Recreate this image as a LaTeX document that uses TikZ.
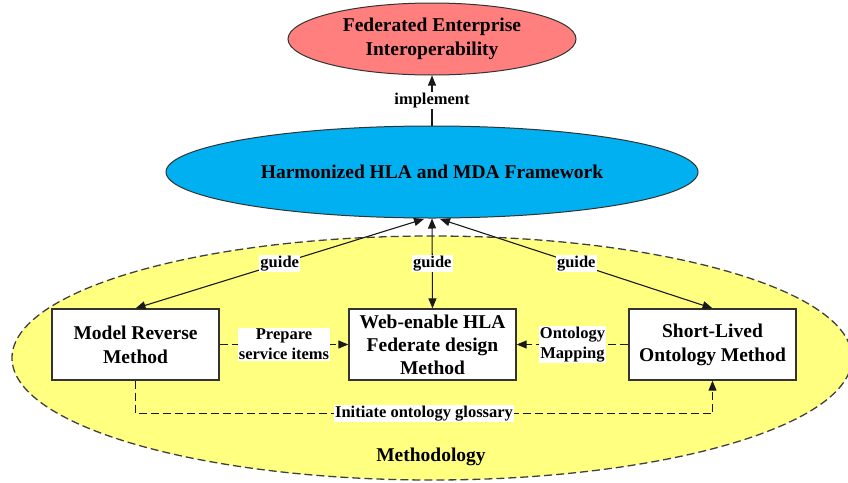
\documentclass[tikz,border=0pt]{standalone}
\usepackage{fontspec}
\setmainfont{Liberation Serif}
\usetikzlibrary{shapes.geometric,arrows.meta}
\definecolor{pinkf}{HTML}{FF7F7F}
\definecolor{bluef}{HTML}{00B0F0}
\definecolor{yellowf}{HTML}{FFFF80}
\begin{document}
\begin{tikzpicture}[x=1pt,y=-1pt,
 big/.style={font=\fontsize{19.5}{24}\selectfont\bfseries, align=center},
 lbl/.style={font=\fontsize{16.5}{20}\selectfont\bfseries, align=center, fill=white, inner sep=1pt},
 box/.style={draw=black!80, line width=1.3pt, fill=white, minimum width=167pt, minimum height=71pt, inner sep=0pt, big},
 tip/.style={-{Triangle[length=10pt,width=8pt]}},
 both/.style={{Triangle[length=10pt,width=8pt]}-{Triangle[length=10pt,width=8pt]}},
 conn/.style={line width=1.1pt, draw=black!90},
 dsh/.style={dash pattern=on 8pt off 4pt}]
\useasboundingbox (0,0) rectangle (848,482);
\fill[white] (0,0) rectangle (848,482);
% methodology region
\node[ellipse, draw=black!75, fill=yellowf, dsh, line width=1.3pt, minimum width=840pt, minimum height=244pt, inner sep=0pt] (meth) at (432,358) {};
% top ellipses
\node[ellipse, draw=black!80, fill=pinkf, line width=1pt, minimum width=288pt, minimum height=72pt, inner sep=0pt, big] (fei) at (432,39) {Federated Enterprise\\Interoperability};
\node[ellipse, draw=black!80, fill=bluef, line width=1pt, minimum width=532pt, minimum height=92pt, inner sep=0pt, big] (hf) at (432,172) {Harmonized HLA and MDA Framework};
% boxes
\node[box] (mr) at (135.5,344.5) {Model Reverse\\Method};
\node[box, font=\fontsize{19.5}{23}\selectfont\bfseries] (web) at (432.5,344.5) {Web-enable HLA\\Federate design\\Method};
\node[box] (sl) at (712.5,344.5) {Short-Lived\\Ontology Method};
\node[font=\fontsize{19.5}{24}\selectfont\bfseries] (ml) at (431,457) {Methodology};
% connection points on the framework ellipse
\coordinate (gl) at (424,219);
\coordinate (gr) at (440,219);
% connectors
\draw[conn,tip] (hf.north) -- node[lbl]{implement} (fei.south);
\draw[conn,both] (gl) -- node[lbl]{guide} (mr.north);
\draw[conn,both] (hf.south) -- node[lbl]{guide} (web.north);
\draw[conn,both] (gr) -- node[lbl]{guide} (sl.north);
\draw[conn,dsh,tip] (mr.east) -- node[lbl]{Prepare\\service items} (web.west);
\draw[conn,dsh,tip] (sl.west) -- node[lbl]{Ontology\\Mapping} (web.east);
\draw[conn,dsh,tip] (mr.south) -- ++(0,33) -| node[lbl,pos=0.25]{Initiate ontology glossary} (sl.south);
\end{tikzpicture}
\end{document}
